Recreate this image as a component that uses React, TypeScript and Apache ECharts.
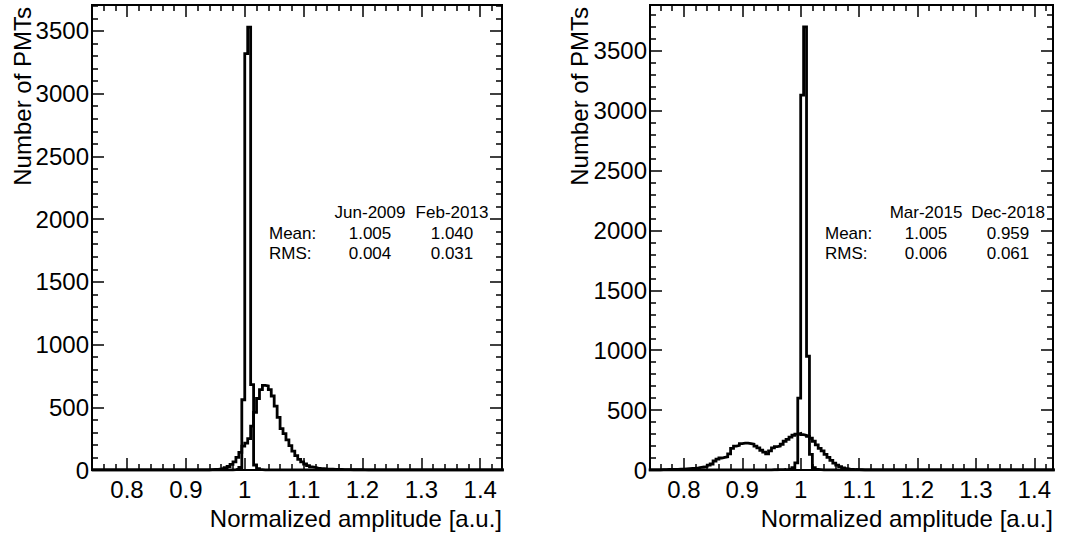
import React, { useEffect, useRef } from "react";
import * as echarts from "echarts";

// ---- data (histograms, bin width 0.005) ----
const BIN_WIDTH = 0.005;

const jun2009Start = 0.98;
const jun2009Counts = [3, 8, 20, 560, 3320, 3530, 680, 40, 10, 3];

const feb2013Start = 0.94;
const feb2013Counts = [
  3, 4, 5, 8, 12, 18, 28, 45, 65, 100, 140, 190, 215, 250, 350, 460, 570, 640,
  675, 670, 640, 590, 510, 420, 330, 290, 240, 195, 150, 115, 85, 65, 48, 35,
  25, 20, 15, 12, 10, 8, 7, 6, 5, 4, 4, 3, 3, 3, 2, 2, 2, 2, 1,
];

const mar2015Start = 0.95;
const mar2015Counts = [2, 2, 3, 3, 4, 6, 10, 20, 60, 600, 3130, 3700, 950, 130, 20, 6, 3];

const dec2018Start = 0.76;
const dec2018Counts = [
  3, 3, 4, 4, 5, 6, 8, 8, 10, 12, 14, 15, 18, 22, 25, 30, 40, 50, 75, 90, 100,
  105, 110, 135, 180, 200, 205, 220, 225, 225, 220, 215, 200, 185, 165, 150,
  135, 160, 185, 195, 200, 215, 240, 255, 275, 290, 300, 305, 295, 290, 280,
  265, 240, 210, 180, 160, 130, 105, 80, 58, 40, 28, 18, 12, 8, 6, 4, 3, 2,
];

// ---- axes ----
const xMajorTicks = [0.8, 0.9, 1.0, 1.1, 1.2, 1.3, 1.4];
const xMinorTicks = [
  0.76, 0.78, 0.82, 0.84, 0.86, 0.88, 0.92, 0.94, 0.96, 0.98, 1.02, 1.04,
  1.06, 1.08, 1.12, 1.14, 1.16, 1.18, 1.22, 1.24, 1.26, 1.28, 1.32, 1.34, 1.36,
  1.38, 1.42,
];
const yMajorTicks = [0, 500, 1000, 1500, 2000, 2500, 3000, 3500];

const leftXMin = 0.7405;
const leftXMax = 1.437;
const rightXMin = 0.742;
const rightXMax = 1.432;
const leftYMax = 3707;
const rightYMax = 3883;

const leftStats = { dates: ["Jun-2009", "Feb-2013"], mean: ["1.005", "1.040"], rms: ["0.004", "0.031"] };
const rightStats = { dates: ["Mar-2015", "Dec-2018"], mean: ["1.005", "0.959"], rms: ["0.006", "0.061"] };

const FONT = "Liberation Sans, Arial, Helvetica, sans-serif";
const AXIS_FONT = 24;
const STAT_FONT = 17;

function histPoints(start: number, counts: number[], xmin: number, xmax: number) {
  const pts: number[][] = [];
  const first = Math.floor(xmin / BIN_WIDTH) * BIN_WIDTH;
  const n = Math.ceil((xmax - first) / BIN_WIDTH);
  for (let i = 0; i < n; i++) {
    const lo = +(first + i * BIN_WIDTH).toFixed(4);
    const hi = +(lo + BIN_WIDTH).toFixed(4);
    const idx = Math.round((lo - start) / BIN_WIDTH);
    const c = idx >= 0 && idx < counts.length ? counts[idx] : 0;
    pts.push([lo, c], [hi, c]);
  }
  return pts;
}

function yMinor(ymax: number) {
  const out: number[] = [];
  for (let v = 100; v <= ymax; v += 100) if (v % 500 !== 0) out.push(v);
  return out;
}

function makeXAxes(gridIndex: number, xmin: number, xmax: number) {
  const base = {
    type: "value",
    gridIndex,
    min: xmin,
    max: xmax,
    splitLine: { show: false },
    axisLine: { show: false, onZero: false },
  };
  const tickStyle = { color: "#000", width: 1.5 };
  const minor = xMinorTicks.filter((v) => v > xmin && v < xmax);
  return [
    {
      ...base,
      position: "bottom",
      axisTick: { show: true, inside: true, length: 12, customValues: xMajorTicks, lineStyle: tickStyle },
      axisLabel: {
        show: true,
        customValues: xMajorTicks,
        formatter: (v: number) => String(Math.round(v * 10) / 10),
        fontSize: AXIS_FONT,
        color: "#000",
        fontFamily: FONT,
        margin: 7,
      },
    },
    {
      ...base,
      position: "bottom",
      axisTick: { show: true, inside: true, length: 6, customValues: minor, lineStyle: tickStyle },
      axisLabel: { show: false },
    },
    {
      ...base,
      position: "top",
      axisTick: { show: true, inside: true, length: 12, customValues: xMajorTicks, lineStyle: tickStyle },
      axisLabel: { show: false },
    },
    {
      ...base,
      position: "top",
      axisTick: { show: true, inside: true, length: 6, customValues: minor, lineStyle: tickStyle },
      axisLabel: { show: false },
    },
  ];
}

function makeYAxes(gridIndex: number, ymax: number) {
  const base = {
    type: "value",
    gridIndex,
    min: 0,
    max: ymax,
    splitLine: { show: false },
    axisLine: { show: false, onZero: false },
  };
  const tickStyle = { color: "#000", width: 1.5 };
  const minor = yMinor(ymax);
  return [
    {
      ...base,
      position: "left",
      axisTick: { show: true, inside: true, length: 12, customValues: yMajorTicks, lineStyle: tickStyle },
      axisLabel: {
        show: true,
        customValues: yMajorTicks,
        formatter: (v: number) => String(v),
        fontSize: AXIS_FONT,
        color: "#000",
        fontFamily: FONT,
        margin: 3,
      },
    },
    {
      ...base,
      position: "left",
      axisTick: { show: true, inside: true, length: 6, customValues: minor, lineStyle: tickStyle },
      axisLabel: { show: false },
    },
    {
      ...base,
      position: "right",
      axisTick: { show: true, inside: true, length: 12, customValues: yMajorTicks, lineStyle: tickStyle },
      axisLabel: { show: false },
    },
    {
      ...base,
      position: "right",
      axisTick: { show: true, inside: true, length: 6, customValues: minor, lineStyle: tickStyle },
      axisLabel: { show: false },
    },
  ];
}

function txt(x: number, y: number, text: string, size: number, align: string, extra: any = {}) {
  return {
    type: "text",
    x,
    y,
    ...extra,
    style: {
      text,
      fontSize: size,
      fontFamily: FONT,
      fill: "#000",
      textAlign: align,
      textVerticalAlign: "middle",
    },
  };
}

function statsGraphics(labelX: number, col1: number, col2: number, stats: any) {
  return [
    txt(col1, 212, stats.dates[0], STAT_FONT, "center"),
    txt(col2, 212, stats.dates[1], STAT_FONT, "center"),
    txt(labelX, 233, "Mean:", STAT_FONT, "left"),
    txt(col1, 233, stats.mean[0], STAT_FONT, "center"),
    txt(col2, 233, stats.mean[1], STAT_FONT, "center"),
    txt(labelX, 253, "RMS:", STAT_FONT, "left"),
    txt(col1, 253, stats.rms[0], STAT_FONT, "center"),
    txt(col2, 253, stats.rms[1], STAT_FONT, "center"),
  ];
}

function lineSeries(data: number[][], xi: number, yi: number) {
  return {
    type: "line",
    xAxisIndex: xi,
    yAxisIndex: yi,
    data,
    showSymbol: false,
    symbol: "none",
    clip: true,
    silent: true,
    lineStyle: { color: "#000", width: 2.8, join: "miter" },
  };
}

export default function App() {
  const ref = useRef<HTMLDivElement>(null);
  useEffect(() => {
    if (!ref.current) return;
    const chart = echarts.init(ref.current, undefined, { renderer: "svg" });
    const gridStyle = { show: true, borderColor: "#000", borderWidth: 2, backgroundColor: "transparent" };
    chart.setOption({
      animation: false,
      backgroundColor: "#fff",
      grid: [
        { left: 92, top: 5, width: 410, height: 465, ...gridStyle },
        { left: 650, top: 5, width: 403, height: 465, ...gridStyle },
      ],
      xAxis: [...makeXAxes(0, leftXMin, leftXMax), ...makeXAxes(1, rightXMin, rightXMax)],
      yAxis: [...makeYAxes(0, leftYMax), ...makeYAxes(1, rightYMax)],
      series: [
        lineSeries(histPoints(feb2013Start, feb2013Counts, leftXMin, leftXMax), 0, 0),
        lineSeries(histPoints(jun2009Start, jun2009Counts, leftXMin, leftXMax), 0, 0),
        lineSeries(histPoints(dec2018Start, dec2018Counts, rightXMin, rightXMax), 4, 4),
        lineSeries(histPoints(mar2015Start, mar2015Counts, rightXMin, rightXMax), 4, 4),
      ],
      graphic: [
        ...statsGraphics(269, 370, 452, leftStats),
        ...statsGraphics(825, 926, 1008, rightStats),
        txt(502, 518, "Normalized amplitude [a.u.]", AXIS_FONT, "right"),
        txt(1053, 518, "Normalized amplitude [a.u.]", AXIS_FONT, "right"),
        txt(22, 7, "Number of PMTs", AXIS_FONT, "right", { rotation: Math.PI / 2 }),
        txt(579, 7, "Number of PMTs", AXIS_FONT, "right", { rotation: Math.PI / 2 }),
      ],
    });
    return () => chart.dispose();
  }, []);
  return (
    <div
      ref={ref}
      style={{ position: "fixed", left: 0, top: 0, width: 1082, height: 535, background: "#fff" }}
    />
  );
}
